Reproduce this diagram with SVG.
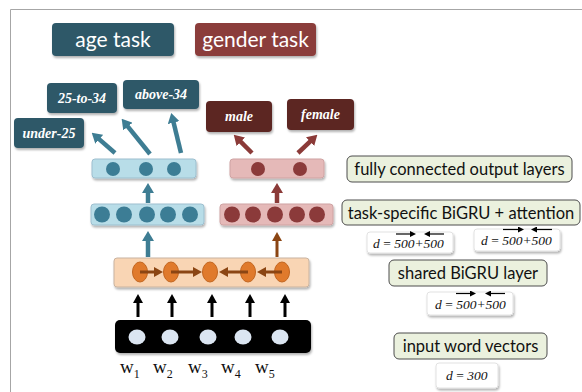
<svg xmlns="http://www.w3.org/2000/svg" width="582" height="392" viewBox="0 0 582 392">
<defs>
<filter id="sh" x="-10%" y="-20%" width="130%" height="160%"><feDropShadow dx="1" dy="2" stdDeviation="1.2" flood-color="#000" flood-opacity="0.3"/></filter>
<marker id="hT" viewBox="0 -6 10 12" refX="1" refY="0" markerWidth="10" markerHeight="12" markerUnits="userSpaceOnUse" orient="auto"><path d="M0,-6 L10,0 L0,6 z" fill="#3e7d93"/></marker>
<marker id="hR" viewBox="0 -6 10 12" refX="1" refY="0" markerWidth="10" markerHeight="12" markerUnits="userSpaceOnUse" orient="auto"><path d="M0,-6 L10,0 L0,6 z" fill="#8b3a38"/></marker>
<marker id="hO" viewBox="0 -5 9 10" refX="1" refY="0" markerWidth="9" markerHeight="10" markerUnits="userSpaceOnUse" orient="auto"><path d="M0,-5 L9,0 L0,5 z" fill="#8b4513"/></marker>
<marker id="hK" viewBox="0 -5 9 10" refX="1" refY="0" markerWidth="9" markerHeight="10" markerUnits="userSpaceOnUse" orient="auto"><path d="M0,-5 L9,0 L0,5 z" fill="#000"/></marker>
<marker id="hS" viewBox="0 -3 6 6" refX="1" refY="0" markerWidth="6" markerHeight="6" markerUnits="userSpaceOnUse" orient="auto"><path d="M0,-3 L6,0 L0,3 z" fill="#000"/></marker>
</defs>
<style>
.task{font-family:Lato,"Open Sans",sans-serif;font-size:21px;fill:#fff;text-anchor:middle}
.cls{font-family:"Liberation Serif",serif;font-style:italic;font-weight:bold;font-size:14px;fill:#fff;text-anchor:middle}
.lab{font-family:Lato,"Open Sans",sans-serif;font-size:16.5px;fill:#111;text-anchor:middle}
.lbox{fill:#ebf1de;stroke:#4d4d4d;stroke-width:1}
.dbox{fill:#fff;stroke:#e2e2e2;stroke-width:1}
.dt{font-family:"Liberation Serif",serif;font-size:13.5px;fill:#111}
.it{font-style:italic}
.teal{fill:#2e5868}
.red{fill:#8b3c3a}
.dred{fill:#5c2524}
.bl{fill:#b8dde8;stroke:#9dbfcf;stroke-width:1}
.pk{fill:#e5b9b8;stroke:#cfa3a3;stroke-width:1}
.tc{fill:#3c7d95}
.rc{fill:#8b3a3a}
.oc{fill:#e07a2c;stroke:#c2651f;stroke-width:1}
.we{fill:#dbe5f1}
.w{font-family:"Liberation Serif",serif;font-size:19px;fill:#111}
.sub{font-size:12px}
.aT{stroke:#3e7d93;stroke-width:4.5;fill:none;marker-end:url(#hT)}
.aR{stroke:#8b3a38;stroke-width:4.5;fill:none;marker-end:url(#hR)}
.aO{stroke:#8b4513;stroke-width:3;fill:none;marker-end:url(#hO)}
.aK{stroke:#000;stroke-width:3;fill:none;marker-end:url(#hK)}
.aS{stroke:#000;stroke-width:1.2;fill:none;marker-end:url(#hS)}
</style>
<rect width="582" height="392" fill="#fff"/>
<path d="M10.5,392 V9.5 H582" fill="none" stroke="#a6a6a6" stroke-width="1"/>

<g id="age-task"><rect class="teal" x="52" y="23" width="122" height="33" rx="4" filter="url(#sh)"/><text class="task" x="113" y="46.5">age task</text></g>
<g id="gender-task"><rect class="red" x="195" y="23" width="121" height="33" rx="4" filter="url(#sh)"/><text class="task" x="255.5" y="46.5">gender task</text></g>

<g id="under-25"><rect class="teal" x="14" y="118" width="70" height="30" rx="4" filter="url(#sh)"/><text class="cls" x="49" y="137.5">under-25</text></g>
<g id="25-to-34"><rect class="teal" x="47" y="83" width="70" height="30" rx="4" filter="url(#sh)"/><text class="cls" x="82" y="102.5">25-to-34</text></g>
<g id="above-34"><rect class="teal" x="123" y="80" width="76" height="29" rx="4" filter="url(#sh)"/><text class="cls" x="161" y="98.5">above-34</text></g>
<g id="male"><rect class="dred" x="206" y="101" width="66" height="31" rx="4" filter="url(#sh)"/><text class="cls" x="239" y="120.5">male</text></g>
<g id="female"><rect class="dred" x="287" y="99" width="67" height="31" rx="4" filter="url(#sh)"/><text class="cls" x="320.5" y="118.5">female</text></g>

<g id="age-output"><rect class="bl" x="92" y="159" width="104" height="19" rx="3" filter="url(#sh)"/><circle class="tc" cx="113" cy="169" r="7"/><circle class="tc" cx="146" cy="169" r="7"/><circle class="tc" cx="174" cy="169" r="7"/></g>
<g id="gender-output"><rect class="pk" x="230" y="159" width="94" height="19" rx="3" filter="url(#sh)"/><circle class="rc" cx="258" cy="169" r="7"/><circle class="rc" cx="300" cy="169" r="7"/></g>

<g id="age-bigru"><rect class="bl" x="91" y="204" width="113" height="21" rx="3" filter="url(#sh)"/><circle class="tc" cx="102" cy="214.5" r="8"/><circle class="tc" cx="124" cy="214.5" r="8"/><circle class="tc" cx="147" cy="214.5" r="8"/><circle class="tc" cx="168" cy="214.5" r="8"/><circle class="tc" cx="190" cy="214.5" r="8"/></g>
<g id="gender-bigru"><rect class="pk" x="220" y="204" width="113" height="21" rx="3" filter="url(#sh)"/><circle class="rc" cx="232" cy="214.5" r="8"/><circle class="rc" cx="253" cy="214.5" r="8"/><circle class="rc" cx="275" cy="214.5" r="8"/><circle class="rc" cx="297" cy="214.5" r="8"/><circle class="rc" cx="317" cy="214.5" r="8"/></g>

<g id="shared-bigru"><rect x="114" y="258" width="195" height="29" rx="3" fill="#f9d5b4" stroke="#c9b3a0" stroke-width="1" filter="url(#sh)"/><ellipse class="oc" cx="140" cy="272" rx="7.5" ry="10"/><ellipse class="oc" cx="171" cy="272" rx="7.5" ry="10"/><ellipse class="oc" cx="210" cy="272" rx="7.5" ry="10"/><ellipse class="oc" cx="248" cy="272" rx="7.5" ry="10"/><ellipse class="oc" cx="282" cy="272" rx="7.5" ry="10"/></g>

<g id="input-vectors"><rect x="115" y="320" width="196" height="33" rx="5" fill="#000" filter="url(#sh)"/><ellipse class="we" cx="137" cy="337" rx="8.5" ry="7.5"/><ellipse class="we" cx="170" cy="337" rx="8.5" ry="7.5"/><ellipse class="we" cx="208" cy="337" rx="8.5" ry="7.5"/><ellipse class="we" cx="243" cy="337" rx="8.5" ry="7.5"/><ellipse class="we" cx="280" cy="337" rx="8.5" ry="7.5"/></g>

<g id="words">
<text class="w" x="120" y="373">w<tspan class="sub" dy="5">1</tspan></text>
<text class="w" x="153" y="373">w<tspan class="sub" dy="5">2</tspan></text>
<text class="w" x="188" y="373">w<tspan class="sub" dy="5">3</tspan></text>
<text class="w" x="221" y="373">w<tspan class="sub" dy="5">4</tspan></text>
<text class="w" x="255" y="373">w<tspan class="sub" dy="5">5</tspan></text>
</g>

<g id="connectors">
<path class="aT" d="M115,153 L98.5,138.6"/>
<path class="aT" d="M150,154 L127.3,125.8"/>
<path class="aT" d="M181,153 L173.4,121.7"/>
<path class="aR" d="M252,153 L240.1,141.1"/>
<path class="aR" d="M298,153 L310.8,140.9"/>
<path class="aT" d="M148,203 V192"/>
<path class="aT" d="M148,257 V240"/>
<path class="aR" d="M277,203 V192"/>
<path class="aO" d="M277,257 V240"/>
<path class="aO" d="M140,272 H155"/>
<path class="aO" d="M171,272 H194"/>
<path class="aO" d="M248,272 H227"/>
<path class="aO" d="M282,272 H265"/>
<path class="aK" d="M138,317 V302"/>
<path class="aK" d="M172,317 V302"/>
<path class="aK" d="M212,317 V302"/>
<path class="aK" d="M250,317 V302"/>
<path class="aK" d="M285,317 V302"/>
</g>

<g id="label-fc"><rect class="lbox" x="347" y="156" width="225" height="26" rx="5"/><text class="lab" x="459.5" y="175">fully connected output layers</text></g>
<g id="label-task"><rect class="lbox" x="342" y="200" width="238" height="25" rx="5"/><text class="lab" x="461" y="218.5">task-specific BiGRU + attention</text></g>
<g id="label-shared"><rect class="lbox" x="389" y="260" width="158" height="26" rx="5"/><text class="lab" x="468" y="279">shared BiGRU layer</text></g>
<g id="label-input"><rect class="lbox" x="394" y="333" width="153" height="26" rx="5"/><text class="lab" x="470.5" y="352">input word vectors</text></g>

<g id="dim-age"><rect class="dbox" x="367" y="232" width="86" height="21" rx="3" filter="url(#sh)"/><text class="dt" x="373" y="248"><tspan class="it">d</tspan> = <tspan class="it">500+500</tspan></text><path class="aS" d="M396,234 H411"/><path class="aS" d="M444,234 H429"/></g>
<g id="dim-gender"><rect class="dbox" x="474" y="229" width="86" height="22" rx="3" filter="url(#sh)"/><text class="dt" x="481" y="245"><tspan class="it">d</tspan> = <tspan class="it">500+500</tspan></text><path class="aS" d="M503,229.5 H519"/><path class="aS" d="M552,229.5 H536"/></g>
<g id="dim-shared"><rect class="dbox" x="427" y="292" width="86" height="23" rx="3" filter="url(#sh)"/><text class="dt" x="435" y="309"><tspan class="it">d</tspan> = <tspan class="it">500+500</tspan></text><path class="aS" d="M456,293.5 H471"/><path class="aS" d="M505,293.5 H490"/></g>
<g id="dim-input"><rect class="dbox" x="436" y="363" width="62" height="25" rx="3" filter="url(#sh)"/><text class="dt" x="446" y="380"><tspan class="it">d</tspan> = <tspan class="it">300</tspan></text></g>
</svg>
